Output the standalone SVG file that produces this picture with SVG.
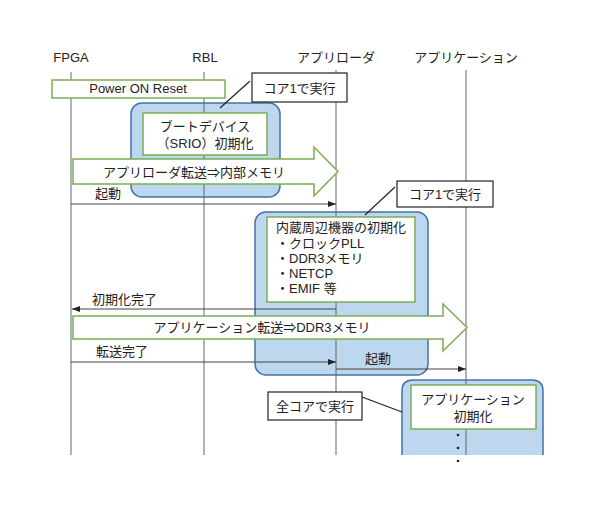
<svg xmlns="http://www.w3.org/2000/svg" width="596" height="515" viewBox="0 0 596 515">
<defs>
<style>
text{font-family:"Liberation Sans","Noto Sans CJK JP",sans-serif;font-size:13px;fill:#222}
.hdr{font-size:13px;text-anchor:middle}
.mid{text-anchor:middle}
.life{stroke:#666;stroke-width:1;fill:none}
.core{fill:#BDD7EE;stroke:#4472A8;stroke-width:1.5}
.coreline{fill:none;stroke:#4472A8;stroke-width:1.5}
.proc{fill:#fff;stroke:#7AAF55;stroke-width:1.5}
.note{fill:#fff;stroke:#222;stroke-width:1.2}
.lead{stroke:#222;stroke-width:1.2;fill:none}
.msg{stroke:#444;stroke-width:1;fill:none;marker-end:url(#ah)}
</style>
<marker id="ah" viewBox="0 0 8 6" refX="8" refY="3" markerWidth="8" markerHeight="6" markerUnits="userSpaceOnUse" orient="auto">
<path d="M0,0 L8,3 L0,6 Z" fill="#222"/>
</marker>
</defs>
<rect width="596" height="515" fill="#fff"/>

<g id="headers">
<text class="hdr" x="71" y="62">FPGA</text>
<text class="hdr" x="205" y="62">RBL</text>
<text class="hdr" x="336" y="62">アプリローダ</text>
<text class="hdr" x="466" y="62">アプリケーション</text>
</g>

<g id="core-boxes">
<rect id="rbl-core" class="core" x="131" y="103" width="149" height="94" rx="11"/>
<rect id="loader-core" class="core" x="255" y="212" width="173" height="163" rx="11"/>
<g id="app-core">
<path d="M402,455 L402,391 Q402,380 413,380 L532,380 Q543,380 543,391 L543,455 Z" fill="#BDD7EE" stroke="none"/>
<path class="coreline" d="M402,455 L402,391 Q402,380 413,380 L532,380 Q543,380 543,391 L543,455"/>
</g>
</g>

<g id="lifelines">
<line class="life" x1="71" y1="72" x2="71" y2="455"/>
<line class="life" x1="204" y1="72" x2="204" y2="455"/>
<line class="life" x1="336" y1="70" x2="336" y2="455"/>
<line class="life" x1="466" y1="70" x2="466" y2="455"/>
</g>

<g id="power-on-reset">
<rect class="proc" x="52" y="80" width="173" height="18"/>
<text class="mid" x="138" y="93">Power ON Reset</text>
</g>

<g id="boot-device-init">
<rect class="proc" x="143" y="113" width="124" height="42"/>
<text class="mid" x="205" y="131">ブートデバイス</text>
<text class="mid" x="205" y="148">（SRIO）初期化</text>
</g>

<g id="transfer-loader">
<path class="proc" d="M73,159 L314,159 L314,147 L338,171.5 L314,196 L314,184 L73,184 Z"/>
<text class="mid" x="194" y="176.5">アプリローダ転送⇒内部メモリ</text>
</g>

<g id="peripheral-init">
<rect class="proc" x="267" y="217" width="148" height="85"/>
<text x="276" y="232">内蔵周辺機器の初期化</text>
<text x="276" y="247.5">・クロックPLL</text>
<text x="276" y="262.5">・DDR3メモリ</text>
<text x="276" y="277.5">・NETCP</text>
<text x="276" y="292.5">・EMIF 等</text>
</g>

<g id="transfer-app">
<path class="proc" d="M73,316 L443,316 L443,304 L467,327.5 L443,351 L443,339 L73,339 Z"/>
<text class="mid" x="262" y="332">アプリケーション転送⇒DDR3メモリ</text>
</g>

<g id="app-init">
<rect class="proc" x="411" y="385" width="125" height="44"/>
<text class="mid" x="473" y="404">アプリケーション</text>
<text class="mid" x="473" y="421">初期化</text>
<circle cx="458" cy="435" r="1.3" fill="#222"/>
<circle cx="458" cy="448" r="1.3" fill="#222"/>
<circle cx="458" cy="461" r="1.3" fill="#222"/>
</g>

<g id="note-core1-a">
<line class="lead" x1="250" y1="81" x2="220" y2="108"/>
<rect class="note" x="252" y="73" width="95" height="29"/>
<text class="mid" x="299.5" y="92.5">コア1で実行</text>
</g>

<g id="note-core1-b">
<line class="lead" x1="395" y1="187" x2="365" y2="215"/>
<rect class="note" x="397" y="181" width="96" height="26"/>
<text class="mid" x="445" y="198.5">コア1で実行</text>
</g>

<g id="note-allcore">
<line class="lead" x1="362" y1="397" x2="402" y2="412"/>
<rect class="note" x="268" y="392" width="94" height="28"/>
<text class="mid" x="315" y="410.5">全コアで実行</text>
</g>

<g id="connectors">
<line class="msg" x1="71" y1="204" x2="336" y2="204"/>
<text x="95" y="198">起動</text>
<line class="msg" x1="336" y1="309" x2="72" y2="309"/>
<text x="92" y="304">初期化完了</text>
<line class="msg" x1="71" y1="362" x2="336" y2="362"/>
<text x="96" y="356">転送完了</text>
<line class="msg" x1="336" y1="369" x2="466" y2="369"/>
<text x="365" y="363">起動</text>
</g>
</svg>
